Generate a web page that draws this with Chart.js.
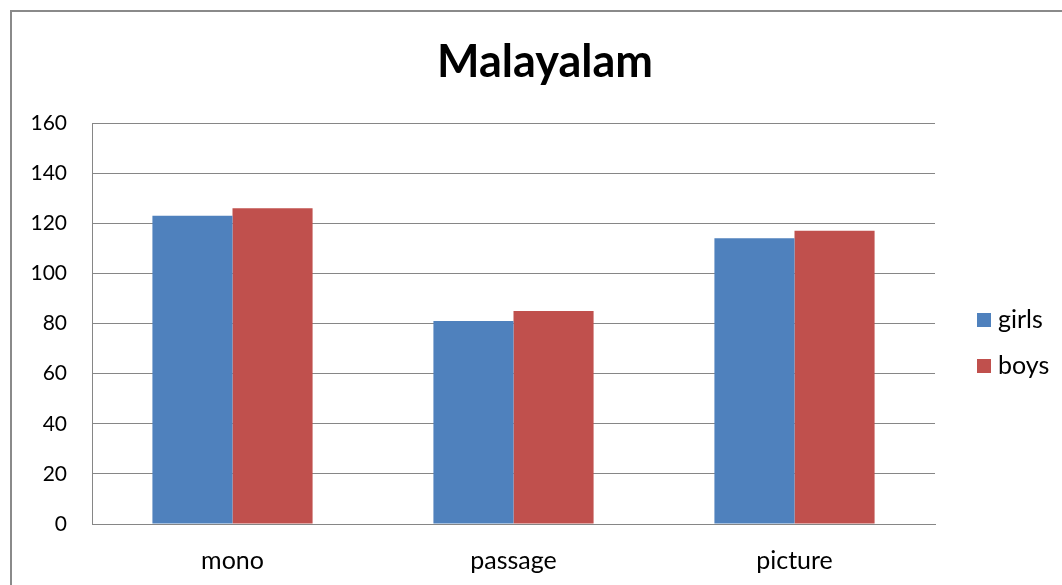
<!DOCTYPE html>
<html>
<head>
<meta charset="utf-8">
<script src="https://cdn.jsdelivr.net/npm/chart.js@4/dist/chart.umd.min.js"></script>
<style>
  html, body { margin: 0; padding: 0; background: #ffffff; }
  #wrap { width: 1062px; height: 585px; position: relative; }
</style>
</head>
<body>
<div id="wrap"><canvas id="c" width="1062" height="585"></canvas></div>
<script>
// Test types and scores per group
const categories = ['mono', 'passage', 'picture'];
const seriesNames = ['girls', 'boys'];
const girls = [123, 81, 114];
const boys = [126, 85, 117];
const yMin = 0, yMax = 160, yStep = 20;
const chartTitle = 'Malayalam';

const BLUE = '#4F81BD';
const RED = '#C0504D';
const FONT = 'Lato, "Open Sans", sans-serif';

// Outer frame of the chart object (runs off the right and bottom edges)
const framePlugin = {
  id: 'frame',
  afterDraw(chart) {
    const ctx = chart.ctx;
    ctx.save();
    ctx.strokeStyle = '#8a8a8a';
    ctx.lineWidth = 2;
    ctx.strokeRect(11, 11, 1200, 800);
    ctx.restore();
  }
};

// Title centred over the whole chart object
const titlePlugin = {
  id: 'bigTitle',
  afterDraw(chart) {
    const ctx = chart.ctx;
    ctx.save();
    ctx.font = 'bold 45px ' + FONT;
    ctx.fillStyle = '#000000';
    ctx.textAlign = 'center';
    ctx.textBaseline = 'alphabetic';
    ctx.fillText(chartTitle, 545, 77);
    ctx.restore();
  }
};

// Legend drawn at the right, beside the plot, from the dataset labels/colours
const sideLegend = {
  id: 'sideLegend',
  afterDraw(chart) {
    const ctx = chart.ctx;
    const x = 977, y0 = 320, gap = 46, box = 14;
    ctx.save();
    ctx.font = '25px ' + FONT;
    ctx.textBaseline = 'middle';
    ctx.textAlign = 'left';
    chart.data.datasets.forEach((ds, i) => {
      const y = y0 + i * gap;
      ctx.fillStyle = ds.backgroundColor;
      ctx.fillRect(x, y - box / 2, box, box);
      ctx.fillStyle = '#000000';
      ctx.fillText(ds.label, x + 21, y);
    });
    ctx.restore();
  }
};

new Chart(document.getElementById('c'), {
  type: 'bar',
  data: {
    labels: categories,
    datasets: [
      { label: seriesNames[0], data: girls, backgroundColor: BLUE, borderWidth: 0 },
      { label: seriesNames[1], data: boys, backgroundColor: RED, borderWidth: 0 }
    ]
  },
  options: {
    responsive: false,
    animation: false,
    devicePixelRatio: 1,
    layout: { padding: { top: 123, right: 127, bottom: 0, left: 0 } },
    plugins: {
      legend: { display: false },
      tooltip: { enabled: false },
      title: { display: false }
    },
    datasets: {
      bar: { barPercentage: 1.0, categoryPercentage: 0.57 }
    },
    scales: {
      x: {
        grid: { display: false, drawTicks: false },
        border: { display: true, color: '#868686', width: 1 },
        ticks: { color: '#000000', padding: 22, font: { family: FONT, size: 25 } },
        afterFit(scale) { scale.height = 61; }
      },
      y: {
        min: yMin,
        max: yMax,
        grid: { color: '#868686', lineWidth: 1, drawTicks: false },
        border: { display: true, color: '#868686', width: 1 },
        ticks: { stepSize: yStep, color: '#000000', padding: 25, font: { family: FONT, size: 21 } },
        afterFit(scale) { scale.width = 92; }
      }
    }
  },
  plugins: [framePlugin, titlePlugin, sideLegend]
});
</script>
</body>
</html>
